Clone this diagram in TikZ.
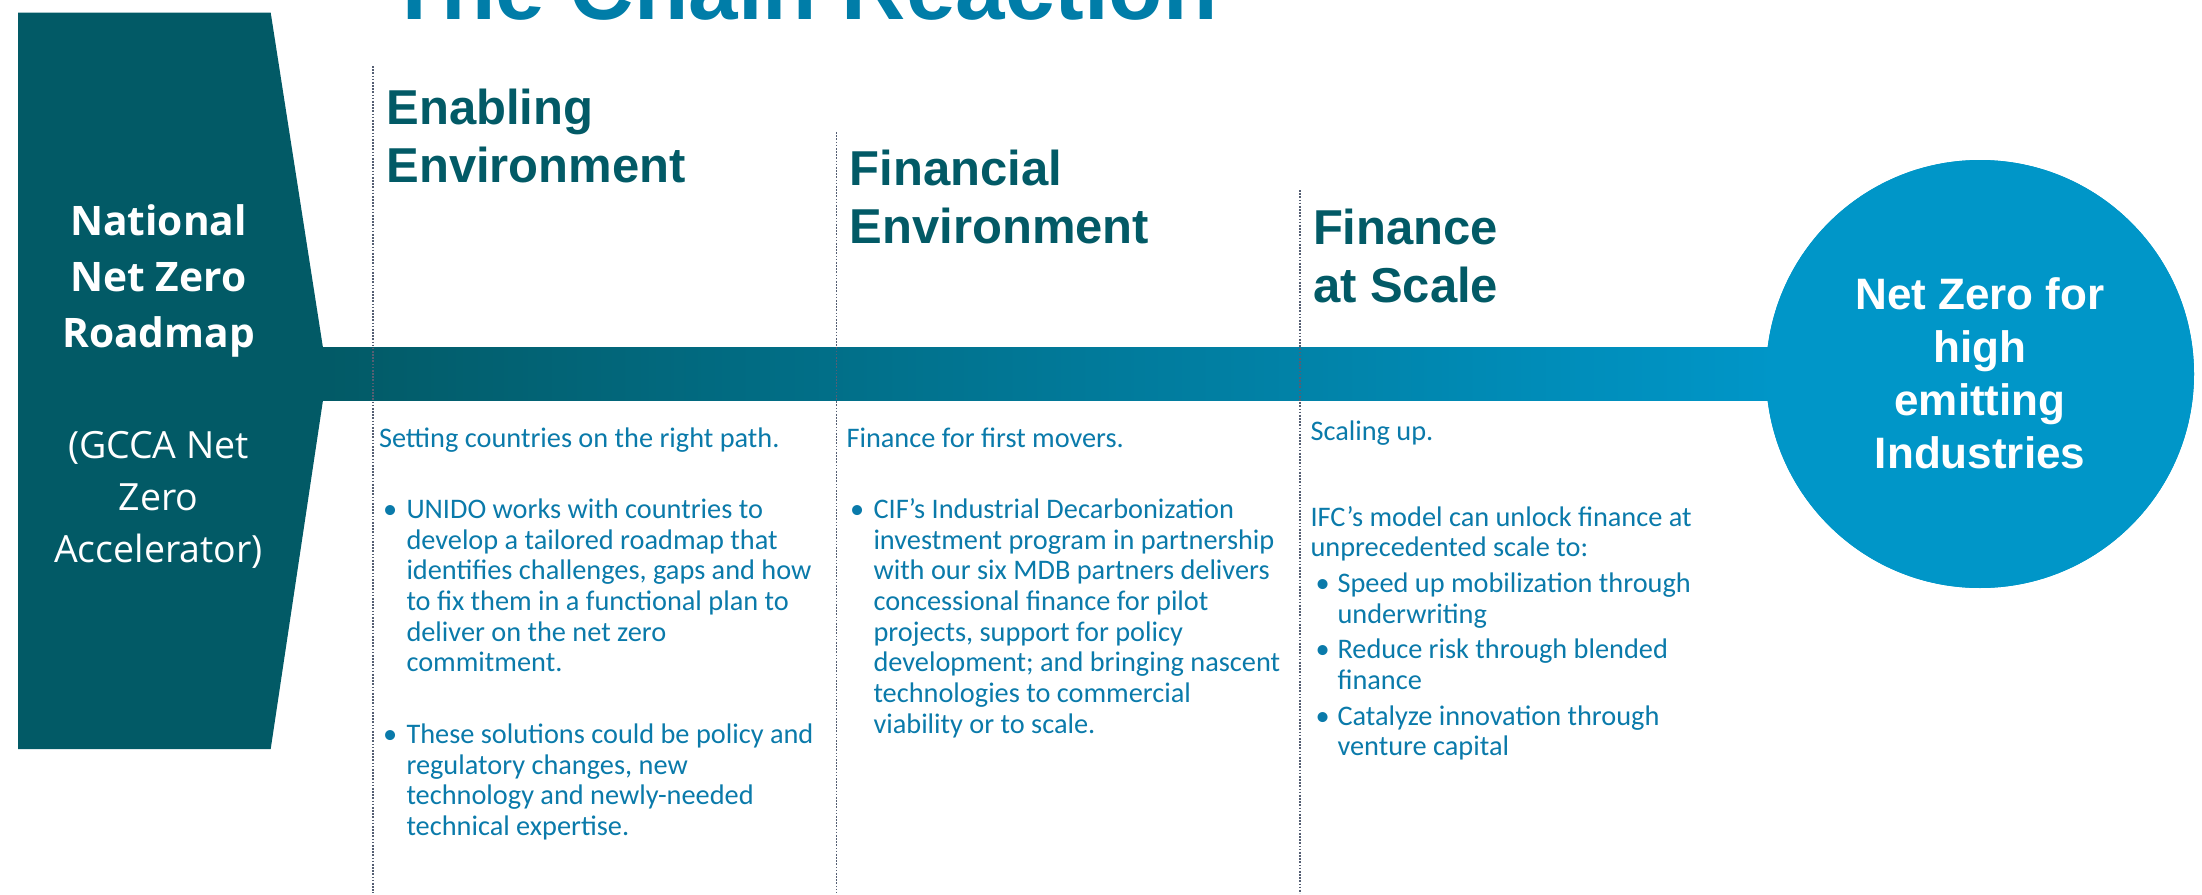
\documentclass[tikz,border=0pt]{standalone}
\usepackage{fontspec}
\setmainfont{Carlito}
\newfontfamily\headfont{Liberation Sans}
\newfontfamily\leftfont{Open Sans}
\usetikzlibrary{calc}
\definecolor{tealdark}{RGB}{2,90,102}
\definecolor{skyblue}{RGB}{0,150,200}
\definecolor{bodyblue}{RGB}{10,122,170}
\definecolor{titleblue}{RGB}{0,125,168}
\definecolor{dotgray}{RGB}{85,95,115}
\newcommand\bodysz{\fontsize{8.5pt}{9.21pt}\selectfont}
\newcommand\headsz{\headfont\bfseries\fontsize{14.7pt}{17.55pt}\selectfont}
\newcommand\blines[1]{\parbox[t]{220pt}{\bodysz #1}}
\newcommand\hlines[1]{\parbox[t]{220pt}{\headsz #1}}
\begin{document}
\begin{tikzpicture}[x=0.3pt,y=-0.3pt,
  txt/.style={inner sep=0pt, outer sep=0pt},
  head/.style={txt, anchor=base west, text=tealdark},
  body/.style={txt, anchor=base west, text=bodyblue},
  bul/.style={txt, anchor=base west, text=bodyblue, font=\bodysz},
  sepline/.style={dotgray, line width=0.55pt, dash pattern=on 0.5pt off 0.45pt},
]
\useasboundingbox (0,0) rectangle (2202,895);

% goal circle
\node[circle, fill=skyblue, minimum size=128.4pt, inner sep=0pt] (goal) at (1980,374) {};
% tip of the roadmap shape
\coordinate (tip) at (322,373.5);
% gradient bar
\shade[left color=tealdark, right color=skyblue]
  ($(tip)+(0,-26)$) rectangle ($(goal.center)+(-205,26)$);
\node[circle, fill=skyblue, minimum size=128.4pt, inner sep=0pt] at (goal) {};
% roadmap shape
\fill[tealdark] (18,12.6) -- (270.7,12.6) -- (327,373.5) -- (270.7,749) -- (18,749) -- cycle;

% separators
\coordinate (s1t) at (373,66);   \coordinate (s1b) at (373,893);
\coordinate (s2t) at (836.5,132);  \coordinate (s2b) at (836.5,893);
\coordinate (s3t) at (1300,190); \coordinate (s3b) at (1300,893);
\draw[sepline] (s1t) -- (s1b);
\draw[sepline] (s2t) -- (s2b);
\draw[sepline] (s3t) -- (s3b);

% title
\node[txt, anchor=base west, text=titleblue, font=\headfont\bfseries\fontsize{26.7pt}{30pt}\selectfont] (title) at (387,19) {The Chain Reaction};

% left shape text
\node[txt, anchor=base, text=white] (roadmap) at (158.5,235)
  {\parbox[t]{80pt}{\centering\leftfont\bfseries\fontsize{12.2pt}{16.95pt}\selectfont National\\Net Zero\\Roadmap}};
\node[txt, anchor=base, text=white] (gcca) at (158.5,458)
  {\parbox[t]{80pt}{\centering\leftfont\fontsize{11.25pt}{15.6pt}\selectfont (GCCA Net\\Zero\\Accelerator)}};

% goal text
\node[txt, anchor=base, text=white] (goaltext) at (1980,309.3)
  {\parbox[t]{100pt}{\centering\headfont\bfseries\fontsize{13.2pt}{15.9pt}\selectfont Net Zero for\\high\\emitting\\Industries}};

% headings
\node[head] (h1) at (386.4,124.3) {\hlines{Enabling\\Environment}};
\node[head] (h2) at (849.7,185) {\hlines{Financial\\Environment}};
\node[head] (h3) at (1313,244.3) {\hlines{Finance\\at Scale}};

% column 1
\node[body] (c1a) at (379,447.7) {\blines{Setting countries on the right path.}};
\node[bul] (c1b1) at (383,518.3) {\textbullet};
\node[body] (c1t1) at (406.5,518.3) {\blines{UNIDO works with countries to\\develop a tailored roadmap that\\identifies challenges, gaps and how\\to fix them in a functional plan to\\deliver on the net zero\\commitment.}};
\node[bul] (c1b2) at (383,743.3) {\textbullet};
\node[body] (c1t2) at (406.5,743.3) {\blines{These solutions could be policy and\\regulatory changes, new\\technology and newly-needed\\technical expertise.}};

% column 2
\node[body] (c2a) at (846.5,447.7) {\blines{Finance for first movers.}};
\node[bul] (c2b1) at (850,518.3) {\textbullet};
\node[body] (c2t1) at (873.5,518.3) {\blines{CIF’s Industrial Decarbonization\\investment program in partnership\\with our six MDB partners delivers\\concessional finance for pilot\\projects, support for policy\\development; and bringing nascent\\technologies to commercial\\viability or to scale.}};

% column 3
\node[body] (c3a) at (1310.5,440.7) {\blines{Scaling up.}};
\node[body] (c3b) at (1310.5,526) {\blines{IFC’s model can unlock finance at\\unprecedented scale to:}};
\node[bul] (c3b1) at (1315.5,592.7) {\textbullet};
\node[body] (c3t1) at (1337.5,592.7) {\blines{Speed up mobilization through\\underwriting}};
\node[bul] (c3b2) at (1315.5,658.3) {\textbullet};
\node[body] (c3t2) at (1337.5,658.3) {\blines{Reduce risk through blended\\finance}};
\node[bul] (c3b3) at (1315.5,725) {\textbullet};
\node[body] (c3t3) at (1337.5,725) {\blines{Catalyze innovation through\\venture capital}};
\end{tikzpicture}
\end{document}
